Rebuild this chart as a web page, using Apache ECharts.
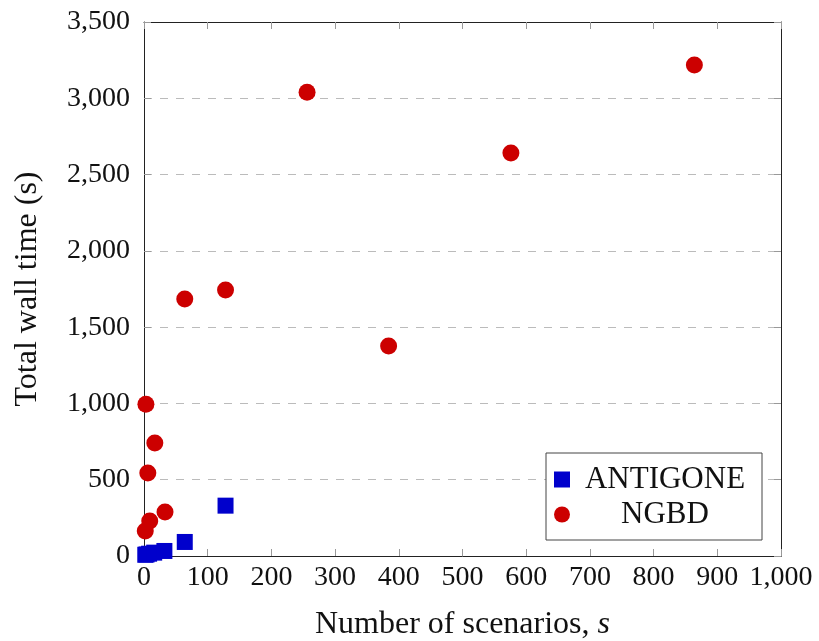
<!DOCTYPE html>
<html>
<head>
<meta charset="utf-8">
<script src="https://cdn.jsdelivr.net/npm/echarts@6/dist/echarts.min.js"></script>
<style>html,body{margin:0;padding:0;background:#fff}#c{width:819px;height:641px}</style>
</head>
<body>
<div id="c"></div>
<script>
const antigoneX = [2, 4, 8, 16, 32, 64, 128];
const antigoneY = [8, 10, 15, 22, 33, 92, 330];
const ngbdX = [2, 3, 6, 9, 17, 33, 64, 128, 256, 384, 576, 864];
const ngbdY = [164, 995, 544, 229, 740, 288, 1684, 1743, 3040, 1376, 2641, 3218];
const seriesNames = ['ANTIGONE', 'NGBD'];
const xTitle = 'Number of scenarios, ';
const yTitle = 'Total wall time (s)';

const FONT = 'Liberation Serif';
const fmt = v => v.toLocaleString('en-US');
const pair = (xs, ys) => xs.map((x, i) => [x, ys[i]]);

const chart = echarts.init(document.getElementById('c'), null, {renderer: 'canvas'});
const tickStyle = {show: true, inside: true, length: 7, lineStyle: {color: '#999', width: 1}};
chart.setOption({
  animation: false,
  backgroundColor: '#fff',
  grid: {left: 144, right: 38, top: 22, bottom: 85, containLabel: false, outerBoundsMode: 'none'},
  xAxis: [{
    type: 'value', min: 0, max: 1000, interval: 100, position: 'bottom',
    axisLine: {show: true, onZero: false, lineStyle: {color: '#222', width: 1}},
    axisTick: tickStyle,
    splitLine: {show: false},
    axisLabel: {fontFamily: FONT, fontSize: 28, color: '#111', margin: 8, formatter: fmt},
    name: xTitle + '{i|s}',
    nameLocation: 'middle', nameGap: 53,
    nameTextStyle: {fontFamily: FONT, fontSize: 32, color: '#111',
      rich: {i: {fontFamily: FONT, fontStyle: 'italic', fontSize: 32, color: '#111'}}}
  }, {
    type: 'value', min: 0, max: 1000, interval: 100, position: 'top',
    axisLine: {show: true, onZero: false, lineStyle: {color: '#222', width: 1}},
    axisTick: tickStyle, axisLabel: {show: false}, splitLine: {show: false}
  }],
  yAxis: [{
    type: 'value', min: 0, max: 3500, interval: 500, position: 'left',
    axisLine: {show: true, onZero: false, lineStyle: {color: '#222', width: 1}},
    axisTick: tickStyle,
    splitLine: {show: true, lineStyle: {color: '#bbb', type: [8, 8], width: 1}},
    axisLabel: {fontFamily: FONT, fontSize: 28, color: '#111', margin: 14, formatter: fmt},
    name: yTitle, nameLocation: 'middle', nameGap: 100, nameRotate: 90,
    nameTextStyle: {fontFamily: FONT, fontSize: 32, color: '#111'}
  }, {
    type: 'value', min: 0, max: 3500, interval: 500, position: 'right',
    axisLine: {show: true, onZero: false, lineStyle: {color: '#222', width: 1}},
    axisTick: tickStyle, axisLabel: {show: false}, splitLine: {show: false}
  }],
  legend: {
    orient: 'vertical', left: 546, top: 453,
    backgroundColor: '#fff', borderColor: '#444', borderWidth: 1,
    padding: [11, 7, 10, 8], itemGap: 4, itemWidth: 16, itemHeight: 16,
    data: [{name: seriesNames[0], icon: 'rect'}, {name: seriesNames[1], icon: 'circle'}],
    formatter: n => '{c|' + n + '}',
    textStyle: {fontFamily: FONT, fontSize: 31, color: '#111',
      rich: {c: {fontFamily: FONT, fontSize: 31, color: '#111', width: 180, align: 'center', lineHeight: 30}}}
  },
  series: [{
    name: seriesNames[0], type: 'scatter', symbol: 'rect', symbolSize: 16,
    itemStyle: {color: '#0000cc', opacity: 1},
    data: pair(antigoneX, antigoneY), z: 3
  }, {
    name: seriesNames[1], type: 'scatter', symbol: 'circle', symbolSize: 17,
    itemStyle: {color: '#cc0000', opacity: 1},
    data: pair(ngbdX, ngbdY), z: 2
  }]
});
</script>
</body>
</html>
